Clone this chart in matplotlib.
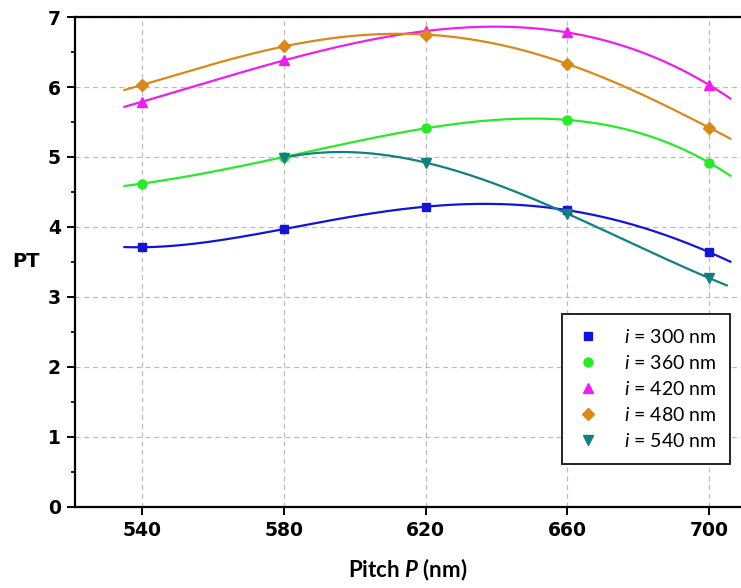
import numpy as np
import matplotlib
matplotlib.use("Agg")
import matplotlib.pyplot as plt
from matplotlib.ticker import MultipleLocator

pitch = [540, 580, 620, 660, 700]
pt_300 = [3.71, 3.97, 4.29, 4.24, 3.64]
pt_360 = [4.62, 5.00, 5.41, 5.53, 4.92]
pt_420 = [5.79, 6.38, 6.80, 6.78, 6.03]
pt_480 = [6.03, 6.58, 6.75, 6.33, 5.42]
pitch_540 = [580, 620, 660, 700]
pt_540 = [4.99, 4.92, 4.19, 3.27]
labels = [r"$\it{i}$ = 300 nm", r"$\it{i}$ = 360 nm", r"$\it{i}$ = 420 nm",
          r"$\it{i}$ = 480 nm", r"$\it{i}$ = 540 nm"]

series = [
    (pitch, pt_300, "#1414d8", "s", 6, (535, 706)),
    (pitch, pt_360, "#2ae82a", "o", 6.5, (535, 706)),
    (pitch, pt_420, "#ec1fec", "^", 7.5, (535, 706)),
    (pitch, pt_480, "#d9891c", "D", 6, (535, 706)),
    (pitch_540, pt_540, "#138080", "v", 7.5, (580, 705)),
]

plt.rcParams["mathtext.fontset"] = "custom"
plt.rcParams["mathtext.it"] = "Lato:italic"
plt.rcParams["mathtext.bf"] = "Lato:bold"
plt.rcParams["mathtext.bfit"] = "Lato:italic:bold"
plt.rcParams["mathtext.rm"] = "Lato"

fig = plt.figure(figsize=(7.41, 5.88), dpi=100)
ax = fig.add_axes([0.101, 0.138, 0.899, 0.833])

for (xs, ys, c, m, ms, (x0, x1)), lab in zip(series, labels):
    xs = np.array(xs, float); ys = np.array(ys, float)
    coef = np.polyfit(xs - 620, ys, len(xs) - 1)
    xx = np.linspace(x0, x1, 300)
    ax.plot(xx, np.polyval(coef, xx - 620), color=c, lw=1.6, zorder=3)
    ax.plot(xs, ys, ls="none", marker=m, ms=ms, color=c, mec=c, zorder=4, label=lab)

ax.set_xlim(521, 709)
ax.set_ylim(0, 7)
ax.set_xticks(pitch)
ax.yaxis.set_major_locator(MultipleLocator(1))
ax.yaxis.set_minor_locator(MultipleLocator(0.5))
ax.grid(True, which="major", color="#bdbdbd", ls=(0, (4, 3)), lw=0.9)
ax.set_axisbelow(True)
ax.spines["right"].set_visible(False)
for s in ["left", "bottom", "top"]:
    ax.spines[s].set_linewidth(1.6)
ax.tick_params(axis="both", which="major", direction="out", length=6, width=1.4,
               labelsize=13.5, pad=4)
ax.tick_params(axis="y", which="minor", direction="out", length=3, width=1.2)
for t in ax.get_xticklabels() + ax.get_yticklabels():
    t.set_fontweight("bold")

ax.set_xlabel(r"Pitch $\mathbfit{P}$ (nm)", fontsize=16, fontweight="bold", labelpad=12,
              family="Lato")
ax.set_ylabel("PT", fontsize=14, fontweight="bold", rotation=0, labelpad=16, va="center")

leg = ax.legend(loc="upper left", bbox_to_anchor=(562 / 741, 1 - 314 / 588),
                bbox_transform=fig.transFigure, prop={"family": "Lato", "size": 14},
                frameon=True, fancybox=False, edgecolor="#222222", framealpha=1,
                handletextpad=1.2, borderpad=0.7, labelspacing=0.42, handlelength=1.3,
                borderaxespad=0)
leg.get_frame().set_linewidth(1.4)

fig.savefig("out.png", dpi=100)
